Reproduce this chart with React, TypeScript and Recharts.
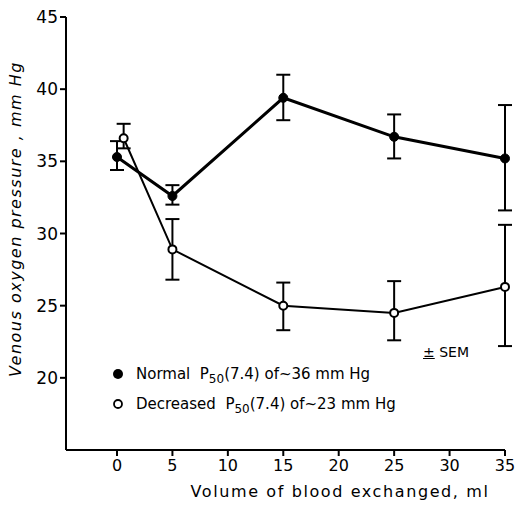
import React from 'react';
import { ComposedChart, Line, XAxis, YAxis, ErrorBar } from 'recharts';

// values (mean and SEM ends)
const normalX = [0, 5, 15, 25, 35];
const normalMean = [35.3, 32.6, 39.4, 36.7, 35.2];
const normalLow = [34.4, 32.0, 37.85, 35.2, 31.6];
const normalHigh = [36.4, 33.35, 41.0, 38.25, 38.9];

const decreasedX = [0.6, 5, 15, 25, 35];
const decreasedMean = [36.6, 28.9, 25.0, 24.5, 26.3];
const decreasedLow = [35.9, 26.8, 23.3, 22.6, 22.2];
const decreasedHigh = [37.6, 31.0, 26.6, 26.7, 30.6];

const xTicks = [0, 5, 10, 15, 20, 25, 30, 35];
const yTicks = [20, 25, 30, 35, 40, 45];

const FONT = '"DejaVu Sans", sans-serif';

const build = (xs: number[], mean: number[], low: number[], high: number[]) =>
  xs.map((x, i) => ({ x, y: mean[i], err: [mean[i] - low[i], high[i] - mean[i]] }));

const normalData = build(normalX, normalMean, normalLow, normalHigh);
const decreasedData = build(decreasedX, decreasedMean, decreasedLow, decreasedHigh);

const LegendBox = () => (
  <div style={{ fontFamily: FONT, fontSize: 15, color: '#000', lineHeight: '30px' }}>
    <div style={{ display: 'flex', alignItems: 'center', height: 30 }}>
      <svg width={14} height={14} style={{ marginRight: 11 }}>
        <circle cx={7} cy={7} r={5} fill="#000" />
      </svg>
      <span>
        Normal&nbsp; P<sub style={{ fontSize: 12, lineHeight: 0 }}>50</sub>(7.4) of~36 mm Hg
      </span>
    </div>
    <div style={{ display: 'flex', alignItems: 'center', height: 30 }}>
      <svg width={14} height={14} style={{ marginRight: 11 }}>
        <circle cx={7} cy={7} r={4} fill="#fff" stroke="#000" strokeWidth={1.8} />
      </svg>
      <span>
        Decreased&nbsp; P<sub style={{ fontSize: 12, lineHeight: 0 }}>50</sub>(7.4) of~23 mm Hg
      </span>
    </div>
  </div>
);

export default function App() {
  return (
    <div style={{ position: 'absolute', left: 0, top: 0, width: 516, height: 506, background: '#fff' }}>
      <ComposedChart width={516} height={506} margin={{ top: 17, right: 11, left: 0, bottom: 0 }}>
        <XAxis
          dataKey="x"
          type="number"
          domain={[-4.6, 35]}
          ticks={xTicks}
          interval={0}
          height={56}
          stroke="#000"
          strokeWidth={2}
          tickSize={6}
          tick={{ fill: '#000', fontSize: 16, fontFamily: FONT }}
          tickMargin={4}
          label={{
            content: () => (
              <text
                x={340}
                y={497}
                textAnchor="middle"
                fontFamily={FONT}
                fontSize={16}
                letterSpacing={1.6}
                fill="#000"
              >
                Volume of blood exchanged, ml
              </text>
            ),
          }}
        />
        <YAxis
          type="number"
          domain={[15, 45]}
          ticks={yTicks}
          interval={0}
          width={66}
          stroke="#000"
          strokeWidth={2}
          tickSize={6}
          tick={{ fill: '#000', fontSize: 17, fontFamily: FONT }}
          tickMargin={2}
          label={{
            content: () => (
              <text
                x={21}
                y={219}
                transform="rotate(-90 21 219)"
                textAnchor="middle"
                fontFamily={FONT}
                fontStyle="italic"
                fontSize={16}
                letterSpacing={1.5}
                fill="#000"
              >
                Venous oxygen pressure , mm Hg
              </text>
            ),
          }}
        />
        <Line
          data={normalData}
          dataKey="y"
          type="linear"
          stroke="#000"
          strokeWidth={3}
          dot={{ r: 4.5, fill: '#000', stroke: '#000', strokeWidth: 1 }}
          isAnimationActive={false}
        >
          <ErrorBar dataKey="err" width={7} stroke="#000" strokeWidth={2} />
        </Line>
        <Line
          data={decreasedData}
          dataKey="y"
          type="linear"
          stroke="#000"
          strokeWidth={2}
          dot={{ r: 4, fill: '#fff', stroke: '#000', strokeWidth: 2 }}
          isAnimationActive={false}
        >
          <ErrorBar dataKey="err" width={7} stroke="#000" strokeWidth={2} />
        </Line>
      </ComposedChart>
      <div style={{ position: 'absolute', left: 111, top: 359 }}>
        <LegendBox />
      </div>
      <div
        style={{
          position: 'absolute',
          left: 423,
          top: 344,
          fontFamily: FONT,
          fontSize: 14,
          color: '#000',
        }}
      >
        <span style={{ textDecoration: 'underline' }}>±</span> SEM
      </div>
    </div>
  );
}
